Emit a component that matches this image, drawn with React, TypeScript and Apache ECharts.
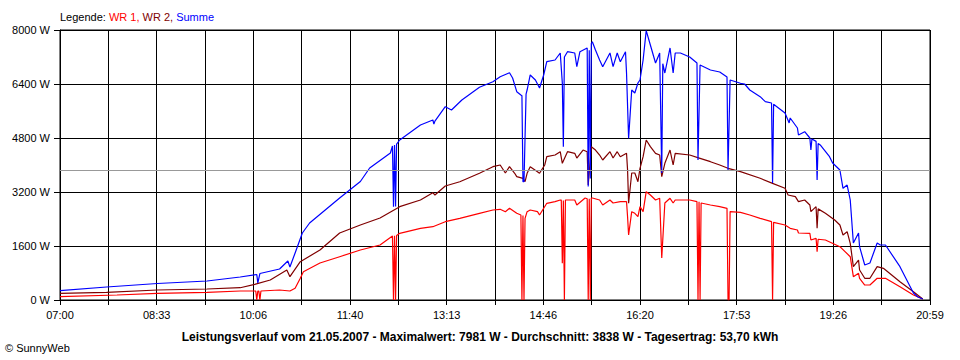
import React, { useEffect, useRef } from "react";
import * as echarts from "echarts";

const timeLabels = ["07:00", "08:33", "10:06", "11:40", "13:13", "14:46", "16:20", "17:53", "19:26", "20:59"];
const yMax = 8000;
const yStep = 1600;
const average = 3838;

const legendText = "{k|Legende: }{a|WR 1,}{b| WR 2,}{c| Summe}";
const footerText = "Leistungsverlauf vom 21.05.2007 - Maximalwert: 7981 W - Durchschnitt: 3838 W - Tagesertrag: 53,70 kWh";
const copyrightText = "© SunnyWeb";

const sumTimes = ["07:00","07:45","08:34","09:22","09:54","10:10","10:11","10:13","10:32","10:40","10:42","10:47","10:54","11:01","11:30","11:50","11:59","12:19","12:21","12:22","12:23","12:24","12:25","12:28","12:48","13:00","13:01","13:02","13:12","13:18","13:28","13:45","13:58","14:05","14:14","14:17","14:21","14:25","14:26","14:27","14:28","14:30","14:31","14:34","14:39","14:43","14:47","14:50","14:58","15:03","15:05","15:06","15:07","15:10","15:17","15:19","15:22","15:29","15:30","15:31","15:32","15:33","15:34","15:37","15:41","15:44","15:51","15:54","15:58","16:01","16:06","16:07","16:09","16:12","16:15","16:18","16:20","16:23","16:26","16:30","16:35","16:39","16:41","16:42","16:44","16:49","16:52","16:54","16:59","17:08","17:15","17:16","17:18","17:28","17:37","17:44","17:45","17:47","17:57","18:01","18:06","18:16","18:21","18:27","18:28","18:29","18:40","18:44","18:45","18:52","18:53","18:59","19:04","19:05","19:06","19:10","19:11","19:12","19:14","19:23","19:26","19:33","19:36","19:40","19:43","19:46","19:51","19:52","19:57","20:02","20:09","20:12","20:17","20:31","20:44","20:48","20:53"];
const sumValues = [280,385,489,563,681,756,504,785,919,1156,978,1393,1985,2282,3022,3511,3911,4356,4563,2760,4590,2770,4620,4741,5185,5333,5215,5300,5727,5630,5926,6302,6468,6616,6735,6578,6172,6074,6050,3505,3505,6100,6222,6667,6519,6282,6667,7061,7111,7319,6430,4542,7200,7357,7319,6913,7357,7467,3360,7400,3600,7600,7654,7407,7111,6913,7319,6913,7319,7061,7357,6717,4790,6222,6133,6430,6519,7111,7981,7556,7022,7319,3763,7000,6726,7467,6726,7319,7319,7200,7022,4148,6963,6815,6756,6607,3852,6519,6421,6400,6222,6024,5876,5837,3467,5800,5541,5245,5393,5096,4889,4987,4800,4444,4770,4700,3556,4640,4593,4246,4059,3852,3310,3407,2963,1689,1985,1579,1037,1096,1689,1630,1630,987,207,98,30];

const wr2Times = ["07:00","07:45","08:34","09:22","09:54","10:08","10:23","10:39","10:42","10:52","11:11","11:30","11:50","12:09","12:28","12:48","13:00","13:02","13:12","13:26","13:45","13:58","14:05","14:10","14:14","14:19","14:21","14:27","14:29","14:31","14:34","14:41","14:43","14:48","14:50","14:58","15:03","15:05","15:10","15:17","15:19","15:25","15:29","15:30","15:33","15:37","15:41","15:44","15:51","15:54","15:58","16:01","16:07","16:08","16:09","16:12","16:15","16:18","16:20","16:23","16:26","16:30","16:35","16:39","16:41","16:44","16:49","16:52","16:54","17:08","17:18","17:28","17:37","17:45","17:57","18:16","18:28","18:40","18:43","18:50","18:53","18:59","19:04","19:05","19:10","19:11","19:12","19:19","19:28","19:33","19:36","19:40","19:43","19:46","19:51","19:52","19:57","20:02","20:09","20:15","20:31","20:44","20:53"];
const wr2Values = [198,228,296,326,364,465,593,889,690,1135,1481,1985,2222,2430,2765,2963,3179,3111,3378,3505,3754,3950,4000,3763,3950,3754,3654,3606,3505,3754,3950,3802,3754,4000,4246,4296,4394,4050,4394,4346,4207,4444,4394,3407,4543,4444,4296,4148,4394,4207,4394,4246,4346,3852,2865,3763,3763,3505,3902,4246,4741,4543,4346,4296,3654,4050,4444,4000,4346,4296,4198,4098,4000,3902,3802,3606,3457,3310,3111,3061,2913,2963,2815,2617,2765,2124,2700,2569,2370,2222,1926,2024,1680,990,1185,889,643,643,987,939,542,246,30];

const wr1Times = ["07:00","07:55","08:34","09:22","09:54","10:09","10:10","10:11","10:12","10:13","10:14","10:32","10:42","10:47","10:52","10:55","11:11","11:30","11:50","12:09","12:21","12:22","12:23","12:24","12:25","12:28","12:48","13:00","13:12","13:26","13:45","13:58","14:05","14:10","14:14","14:21","14:25","14:26","14:27","14:28","14:29","14:31","14:34","14:41","14:43","14:50","14:58","15:03","15:04","15:05","15:06","15:07","15:08","15:10","15:17","15:19","15:27","15:29","15:30","15:31","15:32","15:33","15:34","15:41","15:44","15:51","15:54","16:01","16:07","16:08","16:09","16:12","16:15","16:18","16:20","16:23","16:26","16:30","16:35","16:39","16:41","16:44","16:49","16:52","16:54","17:08","17:15","17:16","17:17","17:18","17:19","17:28","17:37","17:44","17:45","17:46","17:47","17:57","18:06","18:16","18:27","18:28","18:29","18:40","18:45","18:52","18:53","19:04","19:05","19:10","19:11","19:12","19:19","19:33","19:43","19:46","19:51","19:52","19:57","20:02","20:09","20:17","20:31","20:44","20:53"];
const wr1Values = [98,148,198,228,267,267,0,267,267,0,267,296,267,347,643,839,1096,1283,1481,1630,1896,0,1900,0,1910,1976,2124,2172,2320,2420,2569,2667,2687,2617,2717,2569,2519,0,2500,0,2420,2617,2667,2617,2519,2865,2913,2963,2960,1087,2950,0,2963,2963,2963,2815,3022,3000,0,3000,0,3022,3022,2963,2815,2963,2874,2913,2913,2468,1926,2617,2569,2468,2765,2617,3209,3111,2963,3013,1244,2874,3013,2874,2963,2963,2913,0,2910,0,2874,2815,2765,2717,0,0,2620,2598,2519,2420,2320,0,2300,2222,2124,2074,1985,1976,1778,1828,1431,1800,1778,1580,1283,690,791,643,444,444,643,643,394,148,30];

const toMinutes = (t: string) => {
  const [h, m] = t.split(":").map(Number);
  return h * 60 + m - 7 * 60;
};
const pairs = (times: string[], values: number[]) => times.map((t, i) => [toMinutes(t), values[i]]);

const xMax = 840;
const xStep = xMax / 18;
const FONT = "'Liberation Sans', Arial, sans-serif";

export default function App() {
  const ref = useRef<HTMLDivElement>(null);
  useEffect(() => {
    document.body.style.margin = "0";
    const chart = echarts.init(ref.current!, null, { renderer: "svg" });
    const richBase = { fontSize: 11, fontFamily: FONT, fontWeight: "normal" as const };
    chart.setOption({
      animation: false,
      backgroundColor: "#ffffff",
      title: [
        {
          text: legendText,
          left: 60,
          top: 11,
          padding: 0,
          textStyle: {
            fontWeight: "normal",
            fontSize: 11,
            fontFamily: FONT,
            rich: {
              k: { ...richBase, color: "#000000" },
              a: { ...richBase, color: "#ff0000" },
              b: { ...richBase, color: "#800000" },
              c: { ...richBase, color: "#0000ff" },
            },
          },
        },
        {
          text: footerText,
          left: "center",
          top: 331,
          padding: 0,
          textStyle: { color: "#000", fontSize: 12, fontWeight: "bold", fontFamily: FONT },
        },
        {
          text: copyrightText,
          left: 5,
          top: 342,
          padding: 0,
          textStyle: { color: "#000", fontSize: 11, fontWeight: "normal", fontFamily: FONT },
        },
      ],
      grid: { left: 60, right: 30, top: 30, bottom: 60, show: true, borderColor: "#000", borderWidth: 1 },
      xAxis: {
        type: "value",
        min: 0,
        max: xMax,
        interval: xStep,
        axisLine: { show: true, lineStyle: { color: "#000", width: 1 } },
        axisTick: { show: true, length: 5, lineStyle: { color: "#000" } },
        splitLine: { show: true, lineStyle: { color: "#000", width: 1 } },
        axisLabel: {
          color: "#000",
          fontSize: 11,
          fontFamily: FONT,
          margin: 9,
          formatter: (v: number) => {
            const idx = Math.round(v / xStep);
            return idx % 2 === 0 ? timeLabels[idx / 2] ?? "" : "";
          },
        },
      },
      yAxis: {
        type: "value",
        min: 0,
        max: yMax,
        interval: yStep,
        axisLine: { show: true, lineStyle: { color: "#000", width: 1 } },
        axisTick: { show: true, length: 6, lineStyle: { color: "#000" } },
        splitLine: { show: true, lineStyle: { color: "#000", width: 1 } },
        axisLabel: {
          color: "#000",
          fontSize: 11,
          fontFamily: FONT,
          margin: 10,
          formatter: (v: number) => `${v} W`,
        },
      },
      series: [
        {
          name: "Durchschnitt",
          type: "line",
          data: [],
          markLine: {
            silent: true,
            symbol: "none",
            label: { show: false },
            lineStyle: { color: "#999999", type: "solid", width: 1 },
            data: [{ yAxis: average }],
          },
        },
        {
          name: "WR 1",
          type: "line",
          data: pairs(wr1Times, wr1Values),
          showSymbol: false,
          lineStyle: { color: "#ff0000", width: 1.2 },
          itemStyle: { color: "#ff0000" },
        },
        {
          name: "WR 2",
          type: "line",
          data: pairs(wr2Times, wr2Values),
          showSymbol: false,
          lineStyle: { color: "#800000", width: 1.2 },
          itemStyle: { color: "#800000" },
        },
        {
          name: "Summe",
          type: "line",
          data: pairs(sumTimes, sumValues),
          showSymbol: false,
          lineStyle: { color: "#0000ff", width: 1.2 },
          itemStyle: { color: "#0000ff" },
        },
      ],
    });
    return () => chart.dispose();
  }, []);
  return <div ref={ref} style={{ width: 960, height: 360 }} />;
}
